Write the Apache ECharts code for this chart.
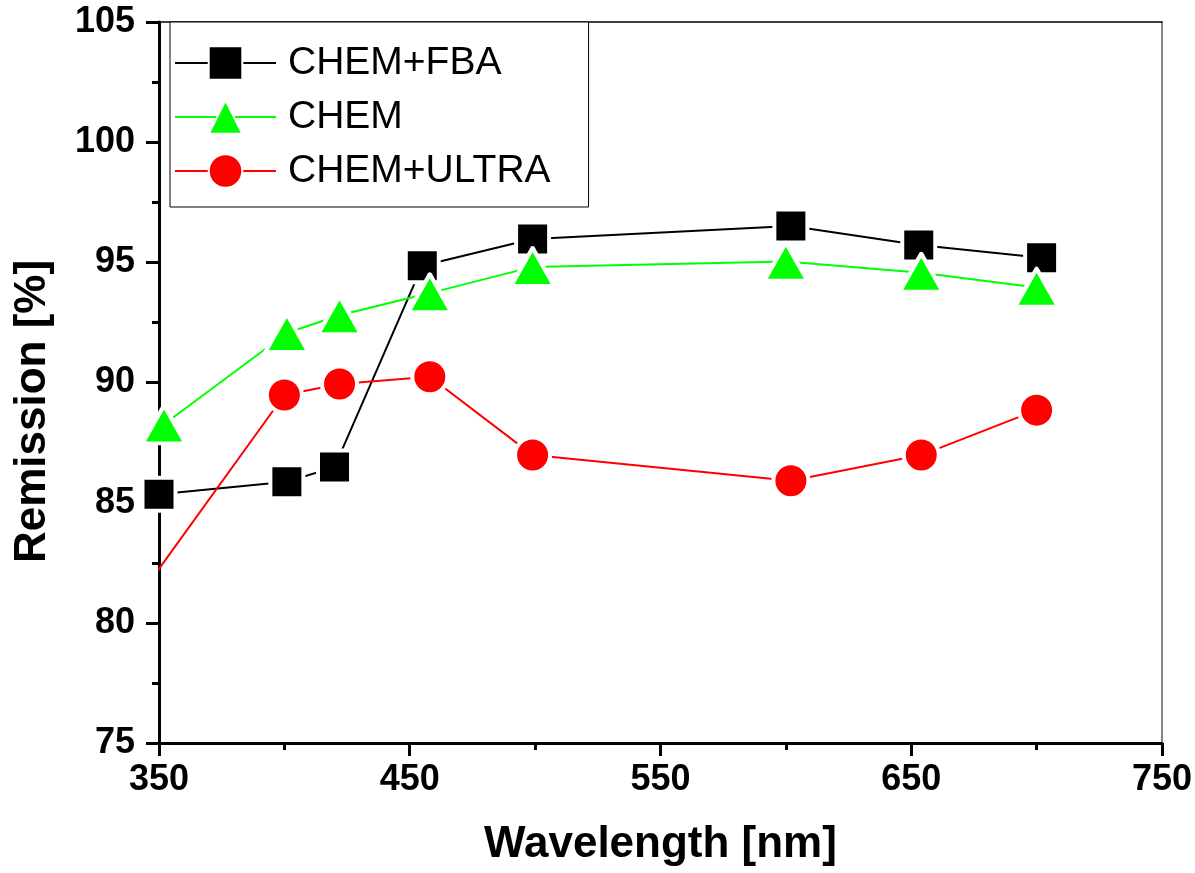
<!DOCTYPE html>
<html>
<head>
<meta charset="utf-8">
<script src="https://cdn.jsdelivr.net/npm/echarts@6/dist/echarts.min.js"></script>
<style>
  html, body { margin: 0; padding: 0; background: #fff; }
  #chart { width: 1195px; height: 873px; }
</style>
</head>
<body>
<div id="chart"></div>
<script>
  // values
  const seriesNames = ['CHEM+FBA', 'CHEM', 'CHEM+ULTRA']
  const fbaX = [350, 401, 420, 455, 499, 602, 653, 702]
  const fbaY = [85.35, 85.87, 86.48, 94.86, 95.97, 96.51, 95.72, 95.19]
  const chemX = [352, 401, 422, 458, 499, 600, 654, 700]
  const chemY = [88.26, 92.06, 92.8, 93.72, 94.81, 95.03, 94.57, 93.95]
  // first red point lies left of the axis, only its line shows
  const ultraX = [340, 400, 422, 458, 499, 602, 654, 700]
  const ultraY = [80.8, 89.48, 89.94, 90.24, 86.98, 85.91, 86.98, 88.85]

  const xTicks = { min: 350, max: 750, interval: 100 }
  const yTicks = { min: 75, max: 105, interval: 5 }

  function pairs(xs, ys) {
    return xs.map((x, i) => [x, ys[i]])
  }

  const font = '"Liberation Sans", Arial, sans-serif'

  function lineSeries(name, xs, ys, color, symbol, size) {
    return {
      name: name,
      type: 'line',
      clip: true,
      symbol: symbol,
      symbolSize: size,
      color: color,
      lineStyle: { color: color, width: 2 },
      itemStyle: {
        color: color,
        borderColor: '#fff',
        borderWidth: 4,
        borderJoin: 'round'
      },
      emphasis: { disabled: true },
      data: pairs(xs, ys)
    }
  }

  let myChart = echarts.init(document.getElementById('chart'))
  let option = {
    animation: false,
    grid: {
      left: 159,
      top: 22,
      width: 1003,
      height: 721,
      containLabel: false
    },
    legend: {
      orient: 'vertical',
      left: 170,
      top: 22,
      data: seriesNames,
      itemWidth: 101,
      itemHeight: 42,
      itemGap: 0,
      padding: [14, 38, 9, 4],
      borderColor: '#000',
      borderWidth: 1,
      backgroundColor: '#fff',
      lineStyle: { width: 2 },
      textStyle: {
        fontFamily: font,
        fontSize: 39,
        color: '#000',
        lineHeight: 54,
        padding: [0, 0, 0, 7]
      }
    },
    xAxis: [{
      type: 'value',
      min: xTicks.min,
      max: xTicks.max,
      interval: xTicks.interval,
      name: 'Wavelength [nm]',
      nameLocation: 'middle',
      nameGap: 80,
      nameTextStyle: {
        fontFamily: font,
        fontSize: 44,
        fontWeight: 'bold',
        color: '#000'
      },
      axisLine: { lineStyle: { color: '#000', width: 3 } },
      axisTick: { length: 13, lineStyle: { width: 3, color: '#000' } },
      minorTick: { show: true, splitNumber: 2, length: 7, lineStyle: { width: 3, color: '#000' } },
      axisLabel: {
        margin: 19,
        fontFamily: font,
        fontSize: 36,
        fontWeight: 'bold',
        color: '#000'
      },
      splitLine: { show: false }
    }, {
      // thin top frame
      type: 'value',
      position: 'top',
      min: xTicks.min,
      max: xTicks.max,
      axisLine: { lineStyle: { color: '#000', width: 1.5 } },
      axisTick: { show: false },
      axisLabel: { show: false },
      splitLine: { show: false }
    }],
    yAxis: [{
      type: 'value',
      min: yTicks.min,
      max: yTicks.max,
      interval: yTicks.interval,
      name: 'Remission [%]',
      nameLocation: 'middle',
      nameRotate: 90,
      nameGap: 104,
      nameTextStyle: {
        fontFamily: font,
        fontSize: 44,
        fontWeight: 'bold',
        color: '#000',
        padding: [0, 58, 0, 0]
      },
      axisLine: { lineStyle: { color: '#000', width: 3 } },
      axisTick: { length: 13, lineStyle: { width: 3, color: '#000' } },
      minorTick: { show: true, splitNumber: 2, length: 7, lineStyle: { width: 3, color: '#000' } },
      axisLabel: {
        margin: 24,
        fontFamily: font,
        fontSize: 36,
        fontWeight: 'bold',
        color: '#000'
      },
      splitLine: { show: false }
    }, {
      // grey right frame
      type: 'value',
      position: 'right',
      min: yTicks.min,
      max: yTicks.max,
      axisLine: { show: true, lineStyle: { color: '#888', width: 2 } },
      axisTick: { show: false },
      axisLabel: { show: false },
      splitLine: { show: false }
    }],
    series: [
      lineSeries(seriesNames[0], fbaX, fbaY, '#000000', 'rect', 33),
      lineSeries(seriesNames[1], chemX, chemY, '#00ff00', 'triangle', [43, 38]),
      lineSeries(seriesNames[2], ultraX, ultraY, '#ff0000', 'circle', 35)
    ]
  }
  myChart.setOption(option)
</script>
</body>
</html>
